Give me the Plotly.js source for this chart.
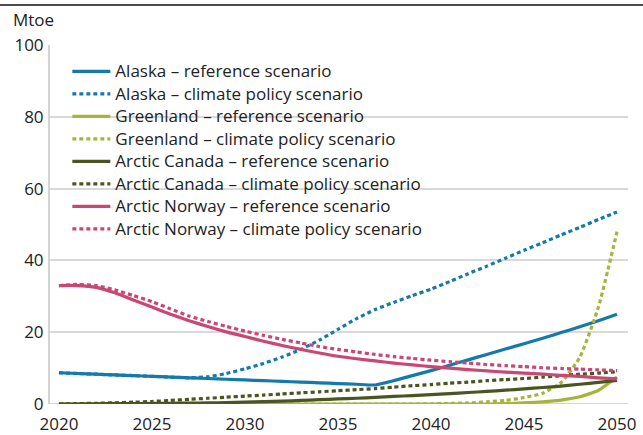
<!DOCTYPE html>
<html>
<head>
<meta charset="utf-8">
<script src="https://cdn.plot.ly/plotly-3.0.1.min.js"></script>
<style>
html,body{margin:0;padding:0;background:#fff;}
#chart{width:643px;height:435px;}
</style>
</head>
<body>
<div id="chart"></div>
<script>
const years = [2020,2021,2022,2023,2024,2025,2026,2027,2028,2029,2030,2031,2032,2033,2034,2035,2036,2037,2038,2039,2040,2041,2042,2043,2044,2045,2046,2047,2048,2049,2050];

const alaskaRef = [8.7,8.5,8.3,8.1,7.9,7.7,7.5,7.3,7.1,6.9,6.7,6.5,6.3,6.1,5.9,5.7,5.5,5.3,6.5,7.9,9.3,10.8,12.3,13.8,15.3,16.8,18.3,19.9,21.5,23.2,25];
const alaskaClimate = [8.7,8.5,8.3,8.1,7.9,7.7,7.5,7.3,7.6,8.5,9.8,11.3,13.1,15.2,17.8,20.8,23.8,26.3,28.3,30.2,32,34.1,36.3,38.4,40.6,42.8,44.9,47.1,49.2,51.4,53.5];
const greenlandRef = [0,0,0,0,0,0,0,0,0,0,0,0,0,0,0,0,0,0,0,0,0,0,0,0,0.1,0.3,0.6,1.1,2,3.8,7.5];
const greenlandClimate = [0,0,0,0,0,0,0,0,0,0,0,0,0,0,0,0,0,0,0,0,0.05,0.15,0.3,0.6,1,1.8,3,6,13,27,48];
const canadaRef = [0,0,0.05,0.1,0.1,0.15,0.2,0.25,0.3,0.4,0.5,0.65,0.8,1,1.2,1.4,1.6,1.85,2.1,2.35,2.6,2.9,3.2,3.5,3.85,4.2,4.6,5,5.5,6,6.6];
const canadaClimate = [0,0.1,0.2,0.35,0.5,0.7,1,1.3,1.6,1.9,2.2,2.5,2.8,3.1,3.4,3.7,4,4.3,4.7,5.1,5.4,5.8,6.1,6.5,6.8,7.1,7.5,7.9,8.3,8.6,9];
const norwayRef = [33,33,32.5,31,29,27,25,23.2,21.6,20.1,18.8,17.5,16.3,15.2,14.2,13.3,12.6,12,11.4,10.9,10.4,10,9.6,9.2,8.9,8.6,8.3,8,7.7,7.3,7];
const norwayClimate = [33,33.3,33,31.8,30.2,28.5,26.5,24.5,23,21.6,20.3,19.1,18,17,16,15.2,14.5,13.8,13.2,12.7,12.2,11.8,11.4,11,10.7,10.4,10.1,9.9,9.7,9.5,9.3];

const seriesNames = [
  "Alaska – reference scenario",
  "Alaska – climate policy scenario",
  "Greenland – reference scenario",
  "Greenland – climate policy scenario",
  "Arctic Canada – reference scenario",
  "Arctic Canada – climate policy scenario",
  "Arctic Norway – reference scenario",
  "Arctic Norway – climate policy scenario"
];
const seriesData = [alaskaRef, alaskaClimate, greenlandRef, greenlandClimate, canadaRef, canadaClimate, norwayRef, norwayClimate];
const seriesColors = ["#1479ab","#1479ab","#a6b43a","#a6b43a","#4a5522","#4a5522","#c94772","#c94772"];
const seriesDash = ["solid","4px,3px","solid","4px,3px","solid","4px,3px","solid","4px,3px"];

const yTicks = [0,20,40,60,80,100];
const xTicks = [2020,2025,2030,2035,2040,2045,2050];

const traces = seriesNames.map((n,i)=>({
  x: years, y: seriesData[i], name: '<span style="font-size:17px">' + n + '</span>',
  type: 'scatter', mode: 'lines',
  line: {color: seriesColors[i], width: 3.2, dash: seriesDash[i], shape: 'spline', smoothing: 0.5},
  hoverinfo: 'skip'
}));

const FONT = "Open Sans, Noto Sans, sans-serif";
const layout = {
  width: 643, height: 435,
  margin: {l: 50, r: 15, t: 45, b: 31, pad: 0},
  paper_bgcolor: '#fff', plot_bgcolor: '#fff',
  font: {family: FONT, size: 17, color: '#222'},
  showlegend: true,
  legend: {
    x: 0.03, y: 0.972, xanchor: 'left', yanchor: 'top',
    bgcolor: 'rgba(0,0,0,0)', borderwidth: 0,
    font: {family: FONT, size: 15, color: '#222'},
    itemwidth: 38, tracegroupgap: 0
  },
  xaxis: {
    range: [2019.52, 2050.59], tickvals: xTicks, ticktext: xTicks.map(String),
    showgrid: false, zeroline: false, showline: false,
    ticks: '', tickfont: {size: 17, family: FONT, color: '#222'}, ticklabelstandoff: 8
  },
  yaxis: {
    range: [0, 100], tickvals: yTicks, ticktext: yTicks.map(String),
    showgrid: true, gridcolor: '#d9d9d9', gridwidth: 2,
    zeroline: false, showline: true, linecolor: '#d4d4d4', linewidth: 2,
    ticks: '', ticklabelstandoff: 1, tickfont: {size: 17, family: FONT, color: '#222'}
  },
  shapes: [
    {type: 'line', xref: 'paper', yref: 'y', x0: 0, x1: 1, y0: 0, y1: 0, line: {color: '#d4d4d4', width: 2}, layer: 'below'},
    {type: 'line', xref: 'paper', yref: 'paper', x0: -50/578, x1: 593/578, y0: 1 + 40/359, y1: 1 + 40/359, line: {color: '#111', width: 1.3}}
  ],
  annotations: [
    {text: 'Mtoe', xref: 'paper', yref: 'paper', x: -39/578, y: 1 + 25/359, xanchor: 'left', yanchor: 'middle', showarrow: false, font: {size: 17, family: FONT, color: '#222'}}
  ]
};

Plotly.newPlot('chart', traces, layout, {displayModeBar: false, staticPlot: true});
</script>
</body>
</html>
